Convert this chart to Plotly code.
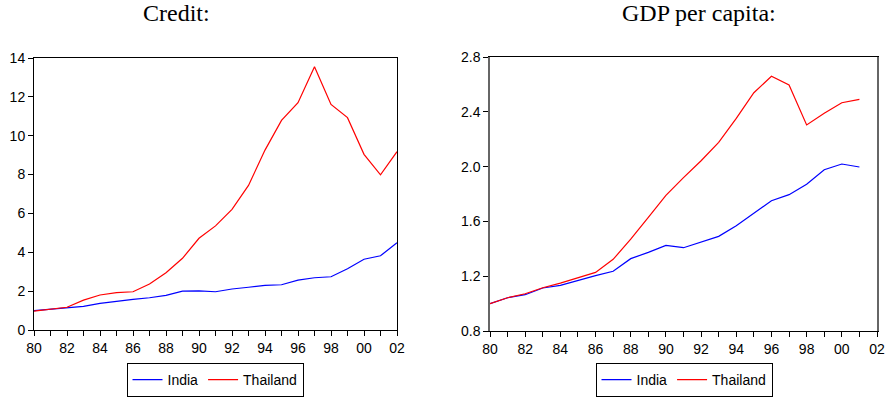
import plotly.graph_objects as go

years = list(range(1980, 2003))
year_labels = [f"{y % 100:02d}" if y % 2 == 0 else "" for y in years]

credit_india = [1.00, 1.08, 1.17, 1.22, 1.37, 1.48, 1.58, 1.66, 1.78, 2.00, 2.01, 1.97, 2.11, 2.20, 2.30,
                2.33, 2.57, 2.69, 2.74, 3.15, 3.64, 3.82, 4.49]
credit_thailand = [0.97, 1.06, 1.17, 1.54, 1.80, 1.92, 1.97, 2.37, 2.95, 3.69, 4.72, 5.36, 6.21, 7.44, 9.26,
                   10.79, 11.70, 13.55, 11.61, 10.93, 9.04, 7.99, 9.18]

gdp_years = list(range(1980, 2002))
gdp_india = [1.000, 1.043, 1.065, 1.114, 1.133, 1.170, 1.204, 1.236, 1.328, 1.374, 1.425, 1.408, 1.452,
             1.491, 1.569, 1.661, 1.751, 1.795, 1.871, 1.977, 2.019, 1.997]
gdp_thailand = [1.000, 1.043, 1.072, 1.116, 1.150, 1.187, 1.228, 1.323, 1.470, 1.630, 1.790, 1.919, 2.043,
                2.177, 2.352, 2.539, 2.659, 2.596, 2.304, 2.389, 2.466, 2.491]

W, H = 889, 397
BLUE, RED = "#0000FF", "#FF0000"
SANS = "Liberation Sans, Arial, sans-serif"
SERIF = "Liberation Serif, Times New Roman, serif"

fig = go.Figure()
fig.add_trace(go.Scatter(x=years, y=credit_india, name="India", mode="lines",
                         line=dict(color=BLUE, width=1.2), xaxis="x", yaxis="y", legend="legend"))
fig.add_trace(go.Scatter(x=years, y=credit_thailand, name="Thailand", mode="lines",
                         line=dict(color=RED, width=1.2), xaxis="x", yaxis="y", legend="legend"))
fig.add_trace(go.Scatter(x=gdp_years, y=gdp_india, name="India", mode="lines",
                         line=dict(color=BLUE, width=1.2), xaxis="x2", yaxis="y2", legend="legend2"))
fig.add_trace(go.Scatter(x=gdp_years, y=gdp_thailand, name="Thailand", mode="lines",
                         line=dict(color=RED, width=1.2), xaxis="x2", yaxis="y2", legend="legend2"))

def xax(domain, anchor, linecolor):
    return dict(domain=domain, anchor=anchor, range=[1980, 2002], tickmode="array",
                tickvals=years, ticktext=year_labels, ticks="outside", ticklen=5, tickcolor="black",
                tickfont=dict(family=SANS, size=14, color="black"), showgrid=False, zeroline=False,
                showline=True, mirror=True, linecolor=linecolor, linewidth=1, automargin=False)

def yax(domain, anchor, rng, dtick, fmt, linecolor):
    return dict(domain=domain, anchor=anchor, range=rng, dtick=dtick, tick0=rng[0], tickformat=fmt,
                ticks="outside", ticklen=5, tickcolor="black",
                tickfont=dict(family=SANS, size=14, color="black"), showgrid=False, zeroline=False,
                showline=True, mirror=True, linecolor=linecolor, linewidth=1.5 if linecolor != "black" else 1,
                automargin=False)

x1 = [34 / W, 397 / W]
x2 = [490 / W, 877 / W]
y1 = [(H - 330) / H, (H - 58) / H]
y2 = [(H - 331) / H, (H - 57) / H]

legend_common = dict(orientation="h", bordercolor="black", borderwidth=1, bgcolor="white",
                     font=dict(family=SANS, size=14, color="black"), xanchor="center", yanchor="middle",
                     itemwidth=30, tracegroupgap=0)

fig.update_layout(
    width=W, height=H, margin=dict(l=0, r=0, t=0, b=0),
    paper_bgcolor="white", plot_bgcolor="white",
    xaxis=xax(x1, "y", "black"),
    yaxis=yax(y1, "x", [0, 14], 2, "d", "black"),
    xaxis2=xax(x2, "y2", "black"),
    yaxis2=yax(y2, "x2", [0.8, 2.8], 0.4, ".1f", "#666666"),
    legend=dict(legend_common, x=215 / W, y=(H - 380) / H),
    legend2=dict(legend_common, x=684 / W, y=(H - 380) / H),
    annotations=[
        dict(text="Credit:", x=176 / W, y=1.0, xref="paper", yref="paper", xanchor="center", yanchor="top",
             showarrow=False, font=dict(family=SERIF, size=24, color="black"), yshift=2),
        dict(text="GDP per capita:", x=699 / W, y=1.0, xref="paper", yref="paper", xanchor="center",
             yanchor="top", showarrow=False, font=dict(family=SERIF, size=24, color="black"), yshift=2),
    ],
    showlegend=True,
)

fig.write_html("out.html")
